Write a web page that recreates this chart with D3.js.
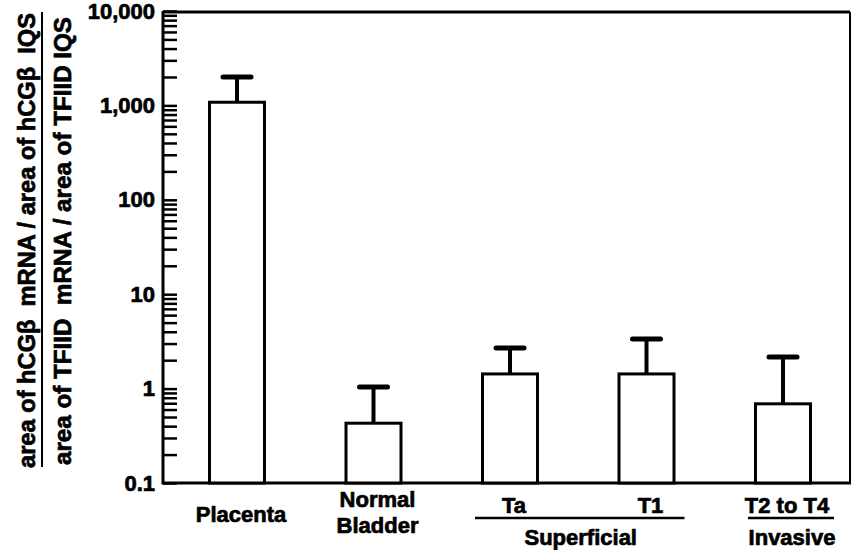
<!DOCTYPE html>
<html>
<head>
<meta charset="utf-8">
<script src="https://cdn.jsdelivr.net/npm/d3@7.9.0/dist/d3.min.js"></script>
<style>
  body { margin: 0; background: #fff; }
  svg { display: block; font-family: "Liberation Sans", Arial, sans-serif; font-weight: bold; }
  svg text { stroke: #000; stroke-width: 0.7px; fill: #000; }
</style>
</head>
<body>
<div id="chart"></div>
<script>
// ---------- DATA ----------
const categories = ['Placenta', 'Normal Bladder', 'Ta', 'T1', 'T2 to T4'];
const categoryLines = [['Placenta'], ['Normal', 'Bladder'], ['Ta'], ['T1'], ['T2 to T4']];
const means = [1080, 0.43, 1.43, 1.43, 0.69];
const upperErrors = [2000, 1.04, 2.69, 3.35, 2.16];
const majorTicks = [0.1, 1, 10, 100, 1000, 10000];
const majorTickLabels = ['0.1', '1', '10', '100', '1,000', '10,000'];
const groups = [
  { label: 'Superficial', members: ['Ta', 'T1'] },
  { label: 'Invasive', members: ['T2 to T4'] },
];
const titleTop = 'area of hCG\u03B2  mRNA / area of hCG\u03B2  IQS';
const titleBottom = 'area of TFIID  mRNA / area of TFIID IQS';

// ---------- LAYOUT ----------
const width = 852;
const height = 550;
const plot = { left: 163, right: 850, top: 12, bottom: 483 };

const svg = d3.select('#chart')
  .append('svg')
  .attr('width', width)
  .attr('height', height);

const yScale = d3.scaleLog()
  .domain([0.1, 10000])
  .range([plot.bottom, 11]);

const xScale = d3.scalePoint()
  .domain(categories)
  .range([237, 783]);

const barWidth = 55;

// minor ticks: 1..9 x 10^n
const allTicks = [];
for (let e = -1; e < 4; e++) {
  for (let m = 1; m < 10; m++) allTicks.push(m * Math.pow(10, e));
}
allTicks.push(10000);

// --- ticks pointing inward
svg.append('g')
  .attr('transform', `translate(${plot.left},0)`)
  .call(d3.axisRight(yScale).tickValues(allTicks).tickSize(14).tickFormat(''))
  .call((g) => g.select('.domain').remove())
  .call((g) => g.selectAll('line').attr('stroke', '#000').attr('stroke-width', 2.5));

// --- tick labels
svg.append('g')
  .attr('transform', `translate(${plot.left},0)`)
  .call(d3.axisLeft(yScale).tickValues(majorTicks).tickSize(0).tickPadding(8)
    .tickFormat((d, i) => majorTickLabels[i]))
  .call((g) => g.select('.domain').remove())
  .call((g) => g.selectAll('text')
    .attr('fill', '#000')
    .style('font-size', '22px')
    .style('font-weight', 'bold')
    .style('font-family', '"Liberation Sans", Arial, sans-serif'));

// --- frame
const frame = svg.append('g').attr('stroke', '#000').attr('fill', 'none');
frame.append('line')
  .attr('x1', plot.left).attr('x2', plot.left)
  .attr('y1', plot.top - 1).attr('y2', plot.bottom + 1.5)
  .attr('stroke-width', 3);
frame.append('line')
  .attr('x1', plot.left).attr('x2', plot.right)
  .attr('y1', plot.top).attr('y2', plot.top)
  .attr('stroke-width', 3);
frame.append('line')
  .attr('x1', plot.left).attr('x2', plot.right + 1)
  .attr('y1', plot.bottom).attr('y2', plot.bottom)
  .attr('stroke-width', 3);
frame.append('line')
  .attr('x1', plot.right).attr('x2', plot.right)
  .attr('y1', plot.top).attr('y2', plot.bottom)
  .attr('stroke-width', 2);

// --- error bars
const err = svg.append('g').attr('stroke', '#000');
err.selectAll('line.stem')
  .data(categories)
  .join('line')
  .attr('class', 'stem')
  .attr('x1', (d) => xScale(d)).attr('x2', (d) => xScale(d))
  .attr('y1', (d, i) => yScale(means[i]))
  .attr('y2', (d, i) => yScale(upperErrors[i]))
  .attr('stroke-width', 4);
err.selectAll('line.cap')
  .data(categories)
  .join('line')
  .attr('class', 'cap')
  .attr('x1', (d) => xScale(d) - 14).attr('x2', (d) => xScale(d) + 14)
  .attr('y1', (d, i) => yScale(upperErrors[i]))
  .attr('y2', (d, i) => yScale(upperErrors[i]))
  .attr('stroke-width', 5)
  .attr('stroke-linecap', 'round');

// --- bars
svg.append('g')
  .selectAll('rect')
  .data(categories)
  .join('rect')
  .attr('x', (d) => xScale(d) - barWidth / 2)
  .attr('y', (d, i) => yScale(means[i]))
  .attr('width', barWidth)
  .attr('height', (d, i) => yScale(0.1) - yScale(means[i]))
  .attr('fill', '#fff')
  .attr('stroke', '#000')
  .attr('stroke-width', 3);

// --- category labels
const catLabels = svg.append('g')
  .attr('text-anchor', 'middle')
  .style('font-size', '22px');
categories.forEach((c, i) => {
  const lines = categoryLines[i];
  const t = catLabels.append('text')
    .attr('x', xScale(c) + 4)
    .attr('y', lines.length > 1 ? 507 : (i === 0 ? 522 : 513));
  lines.forEach((ln, j) => {
    t.append('tspan')
      .attr('x', xScale(c) + 4)
      .attr('dy', j === 0 ? 0 : 26)
      .text(ln);
  });
});

// --- group brackets
groups.forEach((g) => {
  const xs = g.members.map((m) => xScale(m));
  const x0 = d3.min(xs) - 35;
  const x1 = d3.max(xs) + (g.members.length > 1 ? 38 : 51);
  svg.append('line')
    .attr('x1', x0).attr('x2', x1)
    .attr('y1', 518).attr('y2', 518)
    .attr('stroke', '#000').attr('stroke-width', 2.5);
  svg.append('text')
    .attr('x', (x0 + x1) / 2 + 1)
    .attr('y', 545)
    .attr('text-anchor', 'middle')
    .style('font-size', '22px')
    .text(g.label);
});

// --- y title as a fraction
const title = svg.append('g').style('font-size', '24px');
title.append('text')
  .attr('transform', 'translate(35,468) rotate(-90)')
  .attr('textLength', 455)
  .attr('lengthAdjust', 'spacingAndGlyphs')
  .style('white-space', 'pre')
  .text(titleTop);
title.append('line')
  .attr('x1', 42).attr('x2', 42)
  .attr('y1', 12).attr('y2', 467)
  .attr('stroke', '#000').attr('stroke-width', 2);
title.append('text')
  .attr('transform', 'translate(71,465) rotate(-90)')
  .attr('textLength', 448)
  .attr('lengthAdjust', 'spacingAndGlyphs')
  .style('white-space', 'pre')
  .text(titleBottom);
</script>
</body>
</html>
